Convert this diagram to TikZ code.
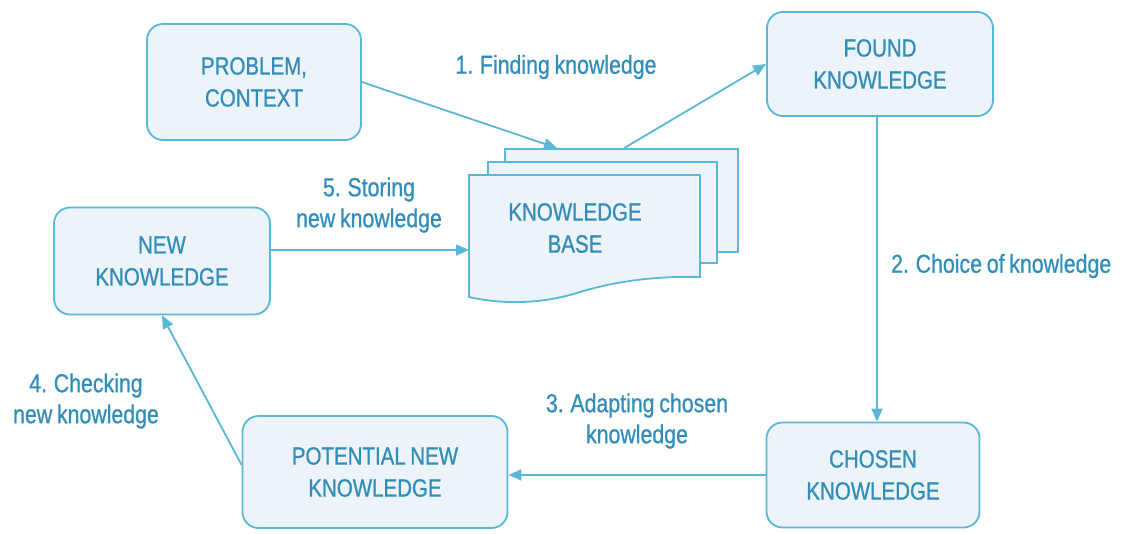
\documentclass[tikz,border=0pt]{standalone}
\usepackage{fontspec}
\setmainfont{Liberation Sans}[FakeStretch=0.82,FakeBold=0.8,WordSpace=0.8]
\usetikzlibrary{arrows.meta,calc}
\definecolor{lineblue}{RGB}{88,184,214}
\definecolor{textblue}{RGB}{50,142,184}
\definecolor{boxfill}{RGB}{236,243,249}
\tikzset{
  boxnode/.style={draw=lineblue, line width=1.8pt, fill=boxfill, rounded corners=16pt,
    align=center, text=textblue, font=\fontsize{25}{32}\selectfont, inner sep=0pt},
  lbl/.style={align=center, text=textblue, font=\fontsize{26}{31}\selectfont, inner sep=0pt},
  conn/.style={draw=lineblue, line width=1.8pt, -{Triangle[length=13pt,width=11pt]}},
  docline/.style={draw=lineblue, line width=1.8pt, fill=boxfill},
}
\begin{document}
\begin{tikzpicture}[x=1pt,y=-1pt]
\useasboundingbox (0,0) rectangle (1131,533);
% boxes
\node[boxnode, minimum width=214pt, minimum height=116pt] (prob) at (254,82) {PROBLEM,\\CONTEXT};
\node[boxnode, minimum width=226pt, minimum height=104pt] (found) at (880,64) {FOUND\\KNOWLEDGE};
\node[boxnode, minimum width=213pt, minimum height=105pt] (chosen) at (873,475) {CHOSEN\\KNOWLEDGE};
\node[boxnode, minimum width=216pt, minimum height=107pt] (newk) at (162,261) {NEW\\KNOWLEDGE};
\node[boxnode, minimum width=265pt, minimum height=112pt] (pot) at (375,472) {POTENTIAL NEW\\KNOWLEDGE};
% knowledge base stack
\node[docline, rounded corners=0pt, minimum width=233pt, minimum height=103pt, inner sep=0pt] (kbback) at (621.5,200.5) {};
\node[docline, rounded corners=0pt, minimum width=229pt, minimum height=101pt, inner sep=0pt] (kbmid) at (602.5,212.5) {};
\path[docline] (469,175) -- (700,175) -- (700,277)
  .. controls (660,276) and (620,280) .. (580,292)
  .. controls (540,305) and (500,304) .. (469,297) -- cycle;
\node[lbl, font=\fontsize{25}{32}\selectfont] (kb) at (575,228) {KNOWLEDGE\\BASE};
\coordinate (kbin1) at ($(kbback.north west)+(53,0)$);
\coordinate (kbout1) at ($(kbback.north west)+(120,0)$);
\coordinate (kbleft) at (469,250);
% connectors
\draw[conn] (prob.east) -- (kbin1);
\draw[conn] (kbout1) -- (found.west);
\draw[conn] ([xshift=-3pt]found.south) -- ([xshift=-3pt]found.south |- chosen.north);
\draw[conn] (chosen.west) -- (chosen.west -| pot.east);
\draw[conn] ([yshift=7pt]pot.west) -- (newk.south);
\draw[conn] ([yshift=11pt]newk.east) -- (kbleft);
% labels
\node[lbl] (l1) at (556,67) {1. Finding knowledge};
\node[lbl, anchor=west] (l2) at (891,266) {2. Choice of knowledge};
\node[lbl] (l3) at (637,421) {3. Adapting chosen\\knowledge};
\node[lbl] (l4) at (86,401) {4. Checking\\new knowledge};
\node[lbl] (l5) at (369,205) {5. Storing\\new knowledge};
\end{tikzpicture}
\end{document}
